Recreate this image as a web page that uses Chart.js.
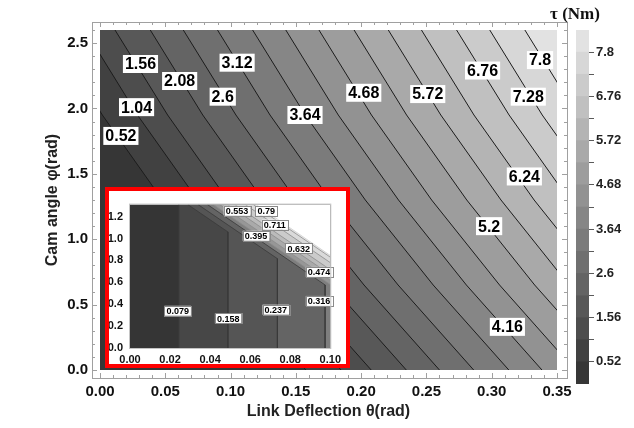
<!DOCTYPE html>
<html>
<head>
<meta charset="utf-8">
<script src="https://cdn.jsdelivr.net/npm/chart.js@4.4.1/dist/chart.umd.min.js"></script>
<style>
  body { margin: 0; background: #fff; }
  #wrap { position: relative; width: 634px; height: 428px; overflow: hidden; }
  #main { position: absolute; left: 0; top: 0; }
  #bar { position: absolute; left: 540px; top: 0; }
  #insetBox { position: absolute; left: 105px; top: 187px; width: 237px; height: 173px;
              border: 4px solid #ff0000; background: #fff; }
  #inset { display: block; }
</style>
</head>
<body>
<div id="wrap">
  <canvas id="main" width="634" height="428"></canvas>
  <canvas id="bar" width="94" height="400"></canvas>
  <div id="insetBox"><canvas id="inset" width="237" height="173"></canvas></div>
</div>
<script>
// ---- main plot: torque contours τ(θ, φ) ----
const levels = [0.52, 1.04, 1.56, 2.08, 2.6, 3.12, 3.64, 4.16, 4.68, 5.2, 5.72, 6.24, 6.76, 7.28, 7.8];
const contourPhi = [2.6, 1.95, 1.3, 0.65, 0];
// θ where each contour crosses φ = 2.6, 1.95, 1.3, 0.65, 0
const thetaAtPhi260 = [-0.0385, -0.0115, 0.0115, 0.0385, 0.0638, 0.0900, 0.1169, 0.1423, 0.1677, 0.1946, 0.2208, 0.2462, 0.2731, 0.2985, 0.3254];
const thetaAtPhi195 = [0.0018, 0.0287, 0.0518, 0.0787, 0.1041, 0.1302, 0.1572, 0.1825, 0.2079, 0.2348, 0.2610, 0.2864, 0.3133, 0.3387, 0.3656];
const thetaAtPhi130 = [0.0478, 0.0748, 0.0978, 0.1248, 0.1502, 0.1763, 0.2032, 0.2286, 0.2540, 0.2809, 0.3071, 0.3325, 0.3594, 0.3848, 0.4117];
const thetaAtPhi065 = [0.0998, 0.1268, 0.1498, 0.1768, 0.2022, 0.2283, 0.2552, 0.2806, 0.3060, 0.3329, 0.3591, 0.3845, 0.4114, 0.4368, 0.4637];
const thetaAtPhi000 = [0.1577, 0.1846, 0.2077, 0.2346, 0.2600, 0.2862, 0.3131, 0.3385, 0.3638, 0.3908, 0.4169, 0.4423, 0.4692, 0.4946, 0.5215];
const labelTheta = [0.016, 0.028, 0.031, 0.061, 0.094, 0.105, 0.157, 0.312, 0.202, 0.298, 0.251, 0.325, 0.293, 0.328, 0.337];
const labelPhi   = [1.79, 2.01, 2.34, 2.21, 2.09, 2.35, 1.95, 0.33, 2.12, 1.10, 2.11, 1.48, 2.29, 2.09, 2.37];
const xTicks = [0, 0.05, 0.10, 0.15, 0.20, 0.25, 0.30, 0.35];
const yTicks = [0, 0.5, 1.0, 1.5, 2.0, 2.5];
const thetaMax = 0.35, phiMax = 2.6;

// ---- colour bar ----
const barEdges = [0, 0.52, 1.04, 1.56, 2.08, 2.6, 3.12, 3.64, 4.16, 4.68, 5.2, 5.72, 6.24, 6.76, 7.28, 7.8, 8.32];
const barLabels = [0.52, 1.56, 2.6, 3.64, 4.68, 5.72, 6.76, 7.8];

// ---- inset: small deflection zoom ----
const insetLevels = [0.079, 0.158, 0.237, 0.316, 0.395, 0.474, 0.553, 0.632, 0.711, 0.79];
const insetTopTheta  = [0.0243, 0.0289, 0.0340, 0.0387, 0.0416, 0.0448, 0.0488, 0.0524, 0.0576, 0.0616];
const insetBendTheta = [0.0243, 0.0489, 0.0736, 0.0974, 0.1000, 0.1000, 0.1000, 0.1000, 0.1000, 0.1000];
const insetBendPhi   = [1.31, 1.06, 0.816, 0.576, 0.58, 0.62, 0.67, 0.715, 0.78, 0.83];
const insetEdgeTheta = [0.0630, 0.1000];   // edge of the computed region
const insetEdgePhi   = [1.31, 0.845];
const insetLabelTheta = [0.0238, 0.049, 0.0728, 0.0944, 0.0629, 0.0944, 0.0534, 0.0842, 0.0723, 0.068];
const insetLabelPhi   = [0.34, 0.27, 0.35, 0.43, 1.025, 0.695, 1.254, 0.911, 1.127, 1.254];
const insetXTicks = [0, 0.02, 0.04, 0.06, 0.08, 0.10];
const insetYTicks = [0, 0.2, 0.4, 0.6, 0.8, 1.0, 1.2];
const insetPhiMax = 1.31, insetThetaMax = 0.1;

const mainGrays = ['#363636', '#414141', '#4d4d4d', '#585858', '#646464', '#6f6f6f', '#7b7b7b', '#868686',
                   '#929292', '#9d9d9d', '#a9a9a9', '#b4b4b4', '#c0c0c0', '#cbcbcb', '#d7d7d7', '#e2e2e2'];
const insetGrays = ['#353535', '#474747', '#555555', '#646464', '#7e7e7e', '#979797', '#aaaaaa', '#bbbbbb',
                    '#cbcbcb', '#dadada', '#e8e8e8'];

const tickFont = { family: '"Liberation Sans", Arial, sans-serif', weight: 'bold', size: 15 };
const titleFont = { family: '"Liberation Sans", Arial, sans-serif', weight: 'bold', size: 16 };

const contourTheta = [thetaAtPhi260, thetaAtPhi195, thetaAtPhi130, thetaAtPhi065, thetaAtPhi000];

// frame with white margin and inward ticks, Mathematica style
const framePlugin = {
  id: 'frame',
  beforeDraw(chart) {
    const { ctx, chartArea: a, scales: { x, y } } = chart;
    ctx.save();
    ctx.fillStyle = mainGrays[0];
    ctx.fillRect(a.left, a.top, a.width, a.height);
    const L = a.left - 8, T = a.top - 8, R = a.right + 10, B = a.bottom + 8;
    ctx.strokeStyle = '#a0a0a0';
    ctx.lineWidth = 1;
    ctx.strokeRect(L + 0.5, T + 0.5, R - L, B - T);
    ctx.beginPath();
    for (let k = 0; k <= 35; k++) {
      const px = Math.round(x.getPixelForValue(k / 100)) + 0.5;
      const len = k % 5 === 0 ? 5 : 3;
      ctx.moveTo(px, B); ctx.lineTo(px, B - len);
      ctx.moveTo(px, T); ctx.lineTo(px, T + len);
    }
    for (let k = 0; k <= 26; k++) {
      const py = Math.round(y.getPixelForValue(k / 10)) + 0.5;
      const len = k % 5 === 0 ? 5 : 3;
      ctx.moveTo(L, py); ctx.lineTo(L + len, py);
      ctx.moveTo(R, py); ctx.lineTo(R - len, py);
    }
    ctx.stroke();
    ctx.restore();
  }
};

function makeLabelPlugin(id, texts, thetas, phis, font, h, boxed) {
  return {
    id,
    afterDatasetsDraw(chart) {
      const { ctx, scales: { x, y } } = chart;
      ctx.save();
      ctx.font = font;
      ctx.textAlign = 'center';
      ctx.textBaseline = 'middle';
      texts.forEach((t, i) => {
        const px = x.getPixelForValue(thetas[i]);
        const py = y.getPixelForValue(phis[i]);
        const s = String(t);
        const w = ctx.measureText(s).width + 4;
        ctx.fillStyle = '#fff';
        ctx.fillRect(px - w / 2, py - h / 2, w, h);
        if (boxed) {
          ctx.strokeStyle = '#8a8a8a';
          ctx.lineWidth = 1;
          ctx.strokeRect(Math.round(px - w / 2) + 0.5, Math.round(py - h / 2) + 0.5, Math.round(w), h);
        }
        ctx.fillStyle = '#000';
        ctx.fillText(s, px, py + 1);
      });
      ctx.restore();
    }
  };
}

const noGrid = { display: false, drawTicks: false };

// Main chart
new Chart(document.getElementById('main'), {
  type: 'line',
  data: {
    datasets: levels.map((lv, i) => {
      const pts = contourPhi.map((p, k) => ({ x: contourTheta[k][i], y: p }));
      // close the band off-canvas, below φ = 0, so the fill reaches the right edge
      if (pts[pts.length - 1].x < thetaMax) pts.push({ x: thetaMax + 0.01, y: -phiMax });
      return {
        label: String(lv),
        data: pts,
        fill: { value: phiMax },
        backgroundColor: mainGrays[i + 1],
        borderColor: '#1c1c1c',
        borderWidth: 1,
        pointRadius: 0,
        tension: 0,
        clip: 0,
        order: levels.length - i
      };
    })
  },
  options: {
    responsive: false,
    animation: false,
    layout: { autoPadding: false, padding: { left: 40, top: 30, right: 77, bottom: 0 } },
    plugins: { legend: { display: false }, tooltip: { enabled: false } },
    scales: {
      x: {
        type: 'linear', min: 0, max: thetaMax,
        afterBuildTicks: s => { s.ticks = xTicks.map(v => ({ value: v })); },
        afterFit: s => { s.height = 58; },
        ticks: { callback: v => v.toFixed(2), font: tickFont, color: '#111', padding: 13, maxRotation: 0 },
        grid: noGrid,
        border: { display: false },
        title: { display: true, text: 'Link Deflection θ(rad)', font: titleFont, color: '#222', padding: { top: 0, bottom: 7 } }
      },
      y: {
        type: 'linear', min: 0, max: phiMax,
        afterBuildTicks: s => { s.ticks = yTicks.map(v => ({ value: v })); },
        afterFit: s => { s.width = 60; },
        ticks: { callback: v => v.toFixed(1), font: tickFont, color: '#111', padding: 12 },
        grid: noGrid,
        border: { display: false },
        title: { display: true, text: 'Cam angle φ(rad)', font: titleFont, color: '#222', padding: { top: 3, bottom: 0 } }
      }
    }
  },
  plugins: [framePlugin,
    makeLabelPlugin('mainLabels', levels, labelTheta, labelPhi, 'bold 16px "Liberation Sans", Arial, sans-serif', 18, false)]
});

// Colour bar
new Chart(document.getElementById('bar'), {
  type: 'bar',
  data: {
    labels: ['τ'],
    datasets: barEdges.slice(0, -1).map((lo, i) => ({
      data: [[lo, barEdges[i + 1]]],
      backgroundColor: mainGrays[i],
      borderWidth: 0,
      grouped: false,
      barPercentage: 1,
      categoryPercentage: 1
    }))
  },
  options: {
    responsive: false,
    animation: false,
    layout: { autoPadding: false, padding: { left: 36, top: 30, right: 0, bottom: 16 } },
    plugins: { legend: { display: false }, tooltip: { enabled: false } },
    scales: {
      x: { display: false },
      y: {
        position: 'right', min: 0, max: 8.32,
        afterBuildTicks: s => { s.ticks = barEdges.slice(1, -1).map(v => ({ value: v })); },
        afterFit: s => { s.width = 45; },
        ticks: {
          callback: v => barLabels.includes(v) ? String(v) : '',
          font: { family: '"Liberation Sans", Arial, sans-serif', weight: 'bold', size: 13 },
          color: '#222', padding: 2
        },
        grid: { drawOnChartArea: false, tickLength: 5, color: '#5a5a5a' },
        border: { display: false }
      }
    }
  },
  plugins: [{
    id: 'barTitle',
    afterDraw(chart) {
      const { ctx, chartArea: a } = chart;
      ctx.save();
      ctx.font = 'bold 17px "Liberation Serif", "Times New Roman", serif';
      ctx.fillStyle = '#111';
      ctx.textAlign = 'center';
      ctx.textBaseline = 'alphabetic';
      ctx.fillText('τ (Nm)', a.left - 1, 19);
      ctx.restore();
    }
  }]
});

// Inset chart
const insetDatasets = insetLevels.map((lv, i) => {
  const pts = [{ x: insetTopTheta[i], y: insetPhiMax }, { x: insetBendTheta[i], y: insetBendPhi[i] }];
  if (insetBendTheta[i] < insetThetaMax) {
    pts.push({ x: insetBendTheta[i], y: 0 });
    pts.push({ x: insetThetaMax + 0.005, y: -insetPhiMax });
  }
  return {
    label: String(lv), data: pts,
    fill: { value: insetPhiMax },
    backgroundColor: insetGrays[i + 1],
    borderColor: i < 4 ? '#3a3a3a' : '#8c8c8c',
    borderWidth: 0.8, pointRadius: 0, clip: 0,
    order: insetLevels.length - i + 1
  };
});
insetDatasets.push({
  label: 'edge',
  data: insetEdgeTheta.map((t, k) => ({ x: t, y: insetEdgePhi[k] })),
  fill: { value: insetPhiMax },
  backgroundColor: '#ffffff', borderColor: '#d0d0d0', borderWidth: 0.8, pointRadius: 0, order: 0
});

const insetFont = { family: '"Liberation Sans", Arial, sans-serif', weight: 'bold', size: 11 };
new Chart(document.getElementById('inset'), {
  type: 'line',
  data: { datasets: insetDatasets },
  options: {
    responsive: false,
    animation: false,
    layout: { autoPadding: false, padding: { left: 0, top: 2, right: 10, bottom: 0 } },
    plugins: { legend: { display: false }, tooltip: { enabled: false } },
    scales: {
      x: {
        type: 'linear', min: 0, max: insetThetaMax,
        afterBuildTicks: s => { s.ticks = insetXTicks.map(v => ({ value: v })); },
        afterFit: s => { s.height = 16; },
        ticks: { callback: v => v.toFixed(2), font: insetFont, color: '#111', padding: 5, maxRotation: 0 },
        grid: noGrid, border: { display: false }
      },
      y: {
        type: 'linear', min: 0, max: insetPhiMax,
        afterBuildTicks: s => { s.ticks = insetYTicks.map(v => ({ value: v })); },
        afterFit: s => { s.width = 21; },
        ticks: { callback: v => v.toFixed(1), font: insetFont, color: '#111', padding: 7 },
        grid: noGrid, border: { display: false }
      }
    }
  },
  plugins: [{
    id: 'insetBg',
    beforeDraw(chart) {
      const { ctx, chartArea: a } = chart;
      ctx.save();
      ctx.fillStyle = insetGrays[0];
      ctx.fillRect(a.left, a.top, a.width, a.height);
      ctx.restore();
    },
    afterDraw(chart) {
      const { ctx, chartArea: a } = chart;
      ctx.save();
      ctx.strokeStyle = '#c4c4c4';
      ctx.lineWidth = 1;
      ctx.strokeRect(a.left - 0.5, a.top - 0.5, a.width + 1, a.height + 1);
      ctx.restore();
    }
  }, makeLabelPlugin('insetLabels', insetLevels, insetLabelTheta, insetLabelPhi, 'bold 9px "Liberation Sans", Arial, sans-serif', 10, true)]
});
</script>
</body>
</html>
